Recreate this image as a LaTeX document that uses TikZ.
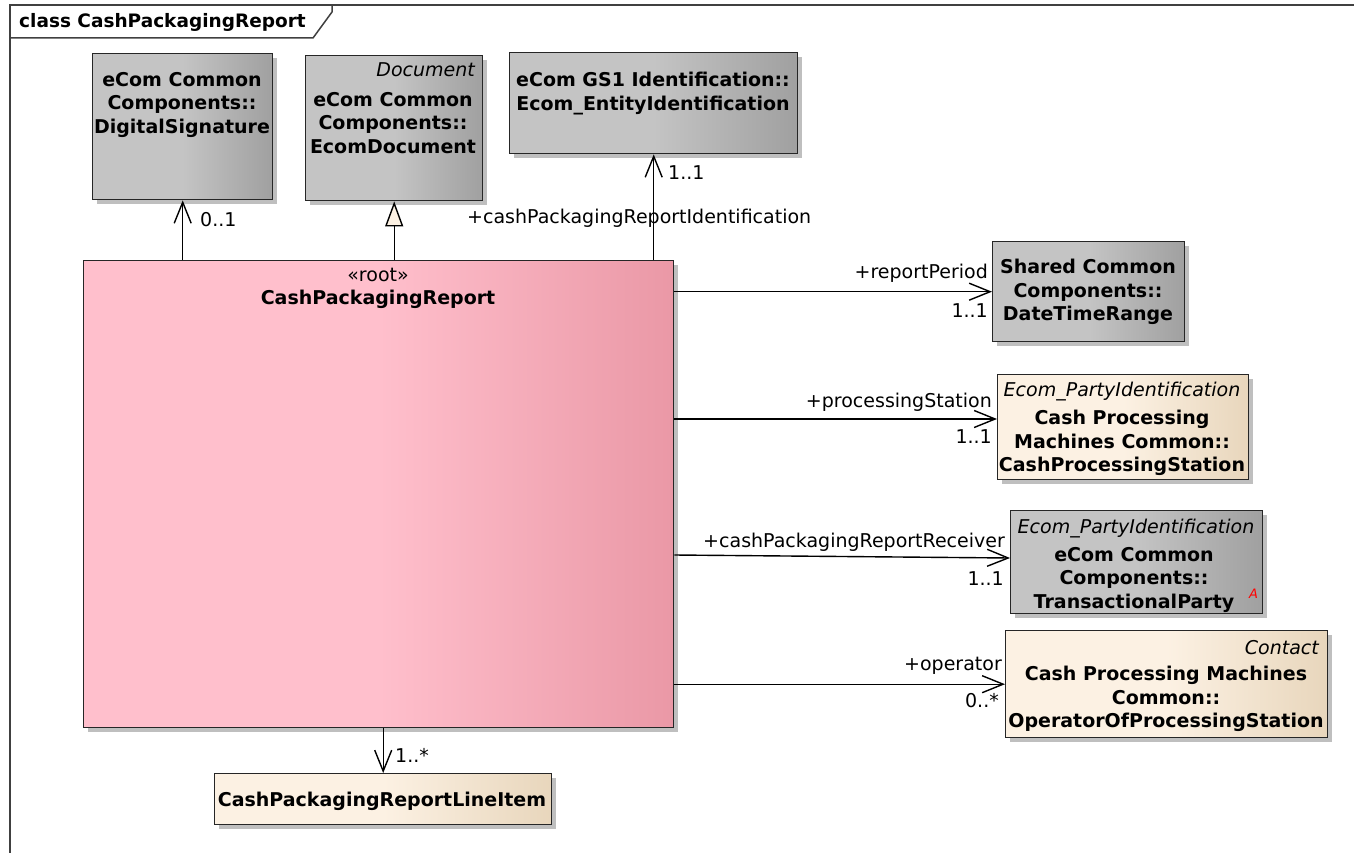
\documentclass[tikz,border=0pt]{standalone}
\usepackage{fontspec}
\setmainfont{DejaVu Sans}
\usetikzlibrary{arrows.meta,shadows,positioning}

\definecolor{grayL}{HTML}{C4C4C4}
\definecolor{grayR}{HTML}{A0A0A0}
\definecolor{pinkL}{HTML}{FFBFCC}
\definecolor{pinkR}{HTML}{EA98A6}
\definecolor{creamL}{HTML}{FCF1E3}
\definecolor{creamR}{HTML}{E8D6BC}
\definecolor{framegray}{HTML}{404040}
\newcommand{\umlfont}{\fontsize{19}{23.5}\selectfont}

\begin{document}
\begin{tikzpicture}[x=1pt,y=-1pt]
  \useasboundingbox (0,0) rectangle (1354,853);
  \tikzstyle{BoxStyle}=[draw=black!85, line width=1.4pt, inner sep=0pt, anchor=north west,
    drop shadow={shadow xshift=4pt, shadow yshift=-4pt, fill=black!25, opacity=1}]
  \tikzstyle{GrayBox}=[BoxStyle, left color=grayL, right color=grayR, middle color=grayL]
  \tikzstyle{PinkBox}=[BoxStyle, left color=pinkL, right color=pinkR, middle color=pinkL]
  \tikzstyle{CreamBox}=[BoxStyle, left color=creamL, right color=creamR, middle color=creamL]
  \tikzstyle{NameStyle}=[font=\umlfont\bfseries, align=center, inner sep=0pt, anchor=north]
  \tikzstyle{StereoStyle}=[font=\umlfont\itshape, inner sep=0pt]
  \tikzstyle{LabelStyle}=[font=\umlfont, inner sep=0pt]
  \tikzstyle{EdgeStyle}=[draw, line width=1.4pt, -{Straight Barb[length=21pt,width=17pt]}]
  \tikzstyle{GenStyle}=[draw, line width=1.4pt, -{Triangle[length=25pt,width=18pt,fill=creamL]}]
  % frame
  \draw[framegray, line width=1.5pt] (10,853) -- (10,5) -- (1354,5);
  \draw[framegray, line width=1.5pt] (10,38) -- (313,38) -- (332,12) -- (332,5);
  \node[font=\fontsize{18.5}{22}\selectfont\bfseries, inner sep=0pt, anchor=base west] (title) at (19,28) {class CashPackagingReport};

  % classes
  \node[GrayBox, minimum width=180pt, minimum height=146pt] (dsig) at (92,53) {};
  \node[GrayBox, minimum width=177pt, minimum height=145pt] (edoc) at (305,55) {};
  \node[GrayBox, minimum width=288pt, minimum height=101pt] (eid) at (509,52) {};
  \node[PinkBox, minimum width=590pt, minimum height=467pt] (root) at (83,260) {};
  \node[GrayBox, minimum width=192pt, minimum height=100pt] (dtr) at (992,241) {};
  \node[CreamBox, minimum width=251pt, minimum height=105pt] (cps) at (997,374) {};
  \node[GrayBox, minimum width=252pt, minimum height=103pt] (tp) at (1010,510) {};
  \node[CreamBox, minimum width=322pt, minimum height=107pt] (opr) at (1005,630) {};
  \node[CreamBox, minimum width=337pt, minimum height=51pt] (item) at (214,773) {};

  % class texts
  \node[NameStyle] (dsigName) at (182,72) {eCom Common\\Components::\\DigitalSignature};
  \node[StereoStyle, anchor=base east] (edocSt) at (475,77) {Document};
  \node[NameStyle] (edocName) at (393,92) {eCom Common\\Components::\\EcomDocument};
  \node[NameStyle] (eidName) at (653,72) {eCom GS1 Identification::\\Ecom\_EntityIdentification};
  \node[LabelStyle, anchor=base] (rootSt) at (378,281) {«root»};
  \node[NameStyle, anchor=base] (rootName) at (378,304) {CashPackagingReport};
  \node[NameStyle] (dtrName) at (1088,259) {Shared Common\\Components::\\DateTimeRange};
  \node[StereoStyle, anchor=base] (cpsSt) at (1122,396) {Ecom\_PartyIdentification};
  \node[NameStyle] (cpsName) at (1122,410) {Cash Processing\\Machines Common::\\CashProcessingStation};
  \node[StereoStyle, anchor=base] (tpSt) at (1136,533) {Ecom\_PartyIdentification};
  \node[NameStyle] (tpName) at (1134,547) {eCom Common\\Components::\\TransactionalParty};
  \node[font=\fontsize{13}{13}\selectfont\itshape, text=red, inner sep=0pt, anchor=base west] (tpAbs) at (1249,598) {A};
  \node[StereoStyle, anchor=base east] (oprSt) at (1319,654) {Contact};
  \node[NameStyle] (oprName) at (1166,666) {Cash Processing Machines\\Common::\\OperatorOfProcessingStation};
  \node[NameStyle, anchor=base] (itemName) at (382,806) {CashPackagingReportLineItem};

  % connectors
  \draw[EdgeStyle] (dsig.south |- root.north) -- (dsig.south);
  \draw[GenStyle] (edoc.south |- root.north) -- (edoc.south);
  \draw[EdgeStyle] (eid.south |- root.north) -- (eid.south);
  \draw[EdgeStyle] (root.east |- dtr.west) -- (dtr.west);
  \draw[EdgeStyle] (root.east |- 0,419) -- (cps.west |- 0,419);
  \draw[EdgeStyle] (root.east |- 0,555) -- (tp.west |- 0,558);
  \draw[EdgeStyle] (root.east |- opr.west) -- (opr.west);
  \draw[EdgeStyle] (root.south -| item.north) -- (item.north);

  % roles and multiplicities
  \node[LabelStyle, anchor=base west] (m1) at (200,226) {0..1};
  \node[LabelStyle, anchor=base west] (m2) at (668,180) {1..1};
  \node[LabelStyle, anchor=base west] (r2) at (467,223) {+cashPackagingReportIdentification};
  \node[LabelStyle, anchor=base east] (r3) at (988,278) {+reportPeriod};
  \node[LabelStyle, anchor=base east] (m3) at (988,317) {1..1};
  \node[LabelStyle, anchor=base east] (r4) at (992,407) {+processingStation};
  \node[LabelStyle, anchor=base east] (m4) at (992,443) {1..1};
  \node[LabelStyle, anchor=base east] (r5) at (1005,547) {+cashPackagingReportReceiver};
  \node[LabelStyle, anchor=base east] (m5) at (1004,585) {1..1};
  \node[LabelStyle, anchor=base east] (r6) at (1002,670) {+operator};
  \node[LabelStyle, anchor=base east] (m6) at (999,707) {0..*};
  \node[LabelStyle, anchor=base west] (m7) at (395,762) {1..*};
\end{tikzpicture}
\end{document}
